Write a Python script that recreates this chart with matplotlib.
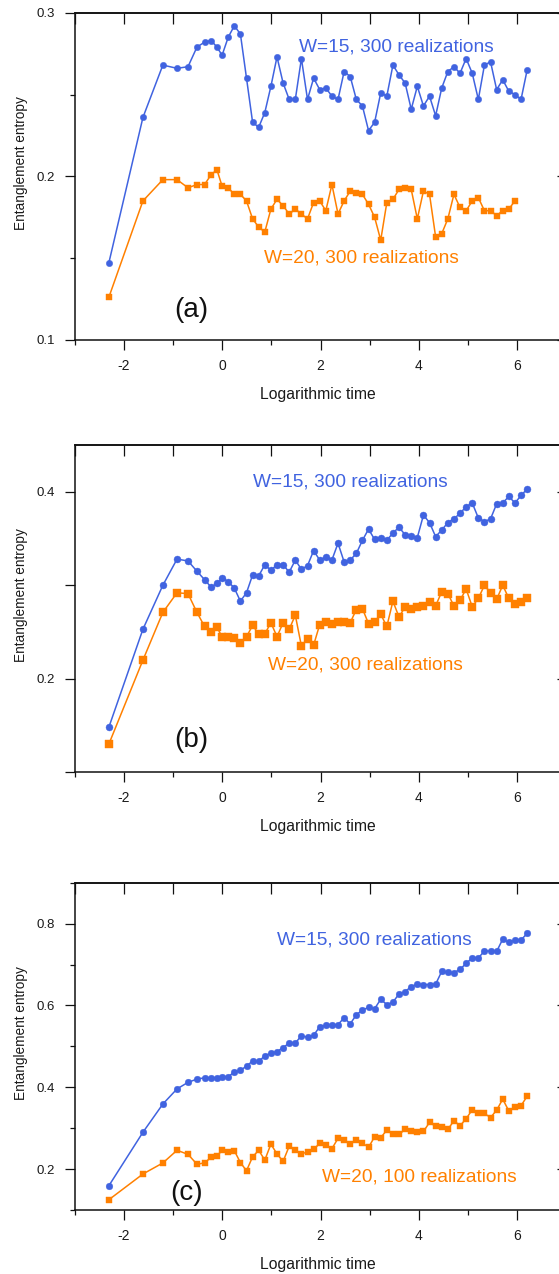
import matplotlib
matplotlib.use('Agg')
import matplotlib.pyplot as plt
from matplotlib.ticker import MultipleLocator, FixedLocator

plt.rcParams['font.family'] = ['Liberation Sans', 'DejaVu Sans']
plt.rcParams['axes.unicode_minus'] = False

# ---------------- data ----------------
log_time = [-2.303, -1.609, -1.204, -0.916, -0.693, -0.511, -0.357, -0.223, -0.105, 0.000,
            0.124, 0.248, 0.372, 0.496, 0.620, 0.744, 0.868, 0.992, 1.116, 1.240,
            1.364, 1.488, 1.612, 1.736, 1.860, 1.984, 2.108, 2.232, 2.356, 2.480,
            2.604, 2.728, 2.852, 2.976, 3.100, 3.224, 3.348, 3.472, 3.596, 3.720,
            3.844, 3.968, 4.092, 4.216, 4.340, 4.464, 4.588, 4.712, 4.836, 4.960,
            5.084, 5.208, 5.332, 5.456, 5.580, 5.704, 5.828, 5.952, 6.076, 6.200]

a_w15 = [0.147, 0.236, 0.268, 0.266, 0.267, 0.279, 0.282, 0.283, 0.279, 0.274,
         0.285, 0.292, 0.287, 0.260, 0.233, 0.230, 0.239, 0.255, 0.273, 0.257,
         0.247, 0.247, 0.272, 0.247, 0.260, 0.253, 0.254, 0.249, 0.247, 0.264,
         0.261, 0.247, 0.243, 0.228, 0.233, 0.251, 0.249, 0.268, 0.262, 0.257,
         0.241, 0.255, 0.243, 0.249, 0.237, 0.254, 0.264, 0.267, 0.263, 0.272,
         0.263, 0.247, 0.268, 0.270, 0.253, 0.259, 0.252, 0.250, 0.247, 0.265]
a_w20 = [0.126, 0.185, 0.198, 0.198, 0.193, 0.195, 0.195, 0.201, 0.204, 0.194,
         0.193, 0.189, 0.189, 0.185, 0.174, 0.169, 0.166, 0.180, 0.186, 0.182,
         0.177, 0.180, 0.177, 0.174, 0.184, 0.185, 0.179, 0.195, 0.177, 0.185,
         0.191, 0.190, 0.189, 0.183, 0.175, 0.161, 0.184, 0.186, 0.192, 0.193,
         0.192, 0.174, 0.191, 0.189, 0.163, 0.165, 0.174, 0.189, 0.181, 0.179,
         0.185, 0.187, 0.179, 0.179, 0.176, 0.179, 0.180, 0.185]

b_w15 = [0.148, 0.253, 0.300, 0.328, 0.326, 0.315, 0.306, 0.298, 0.302, 0.308,
         0.304, 0.297, 0.283, 0.292, 0.311, 0.310, 0.322, 0.316, 0.322, 0.322,
         0.314, 0.327, 0.317, 0.321, 0.337, 0.327, 0.330, 0.327, 0.345, 0.325,
         0.327, 0.334, 0.348, 0.360, 0.349, 0.351, 0.348, 0.356, 0.362, 0.354,
         0.353, 0.351, 0.375, 0.367, 0.352, 0.359, 0.367, 0.371, 0.377, 0.384,
         0.388, 0.372, 0.368, 0.371, 0.387, 0.388, 0.395, 0.388, 0.396, 0.403]
b_w20 = [0.130, 0.220, 0.271, 0.292, 0.291, 0.271, 0.256, 0.250, 0.255, 0.245,
         0.245, 0.244, 0.238, 0.245, 0.257, 0.248, 0.248, 0.260, 0.245, 0.260,
         0.253, 0.268, 0.235, 0.243, 0.236, 0.258, 0.261, 0.259, 0.261, 0.261,
         0.260, 0.274, 0.275, 0.259, 0.261, 0.269, 0.256, 0.283, 0.266, 0.277,
         0.275, 0.277, 0.278, 0.282, 0.278, 0.293, 0.291, 0.278, 0.284, 0.296,
         0.277, 0.286, 0.300, 0.292, 0.285, 0.300, 0.286, 0.280, 0.282, 0.286]

c_w15 = [0.159, 0.290, 0.359, 0.396, 0.412, 0.420, 0.423, 0.423, 0.422, 0.425,
         0.426, 0.437, 0.441, 0.452, 0.464, 0.463, 0.477, 0.483, 0.487, 0.497,
         0.508, 0.508, 0.526, 0.522, 0.527, 0.548, 0.551, 0.552, 0.553, 0.570,
         0.555, 0.577, 0.589, 0.595, 0.592, 0.615, 0.602, 0.608, 0.628, 0.634,
         0.646, 0.652, 0.651, 0.651, 0.652, 0.683, 0.681, 0.680, 0.688, 0.703,
         0.716, 0.716, 0.733, 0.733, 0.732, 0.762, 0.754, 0.760, 0.760, 0.776]
c_w20 = [0.125, 0.188, 0.215, 0.246, 0.236, 0.212, 0.215, 0.229, 0.232, 0.246,
         0.241, 0.245, 0.216, 0.196, 0.230, 0.246, 0.222, 0.261, 0.237, 0.219,
         0.256, 0.246, 0.238, 0.241, 0.248, 0.263, 0.258, 0.250, 0.275, 0.272,
         0.261, 0.272, 0.264, 0.253, 0.279, 0.277, 0.295, 0.285, 0.285, 0.297,
         0.293, 0.290, 0.292, 0.314, 0.305, 0.303, 0.297, 0.318, 0.306, 0.323,
         0.345, 0.336, 0.336, 0.326, 0.344, 0.371, 0.342, 0.352, 0.355, 0.378]

panel_tags = ['(a)', '(b)', '(c)']
w15_labels = ['W=15, 300 realizations', 'W=15, 300 realizations', 'W=15, 300 realizations']
w20_labels = ['W=20, 300 realizations', 'W=20, 300 realizations', 'W=20, 100 realizations']
x_label = 'Logarithmic time'
y_label = 'Entanglement entropy'

# ---------------- style ----------------
BLUE = '#4063E0'
ORANGE = '#FF8000'
TXT = '#1a1a1a'
W, H = 559, 1274

fig = plt.figure(figsize=(W / 100, H / 100), dpi=100)

panels = [
    dict(top=12.7, bottom=340.0, ylim=(0.1, 0.3), major=0.1, minor=0.05, minor_len=5,
         y15=a_w15, y20=a_w20, ms15=4.6, ms20=4.2,
         t15=(0.4563, 0.880), t20=(0.3852, 0.2353), tag=(0.2022, 0.0703)),
    dict(top=445.0, bottom=772.3, ylim=(0.1, 0.45), major=0.2, minor=0.1, minor_len=10,
         y15=b_w15, y20=b_w20, ms15=5.0, ms20=5.4,
         t15=(0.3622, 0.8747), t20=(0.3933, 0.3156), tag=(0.2022, 0.0788)),
    dict(top=882.7, bottom=1210.0, ylim=(0.1, 0.9), major=0.2, minor=0.1, minor_len=5,
         y15=c_w15, y20=c_w20, ms15=4.8, ms20=4.5,
         t15=(0.4110, 0.8127), t20=(0.5024, 0.0886), tag=(0.1940, 0.0306)),
]

left_px, right_px = 74.5, 566.5
for i, p in enumerate(panels):
    ax = fig.add_axes([left_px / W, 1 - p['bottom'] / H,
                       (right_px - left_px) / W, (p['bottom'] - p['top']) / H])
    y15 = p['y15']
    y20 = p['y20']
    ax.plot(log_time[:len(y15)], y15, '-o', color=BLUE, lw=1.1, ms=p['ms15'],
            mec=BLUE, mfc=BLUE, mew=0.3, clip_on=False, zorder=3)
    ax.plot(log_time[:len(y20)], y20, '-s', color=ORANGE, lw=1.1, ms=p['ms20'],
            mec=ORANGE, mfc=ORANGE, mew=0.3, clip_on=False, zorder=3)

    ax.set_xlim(-3, 7)
    ax.set_ylim(*p['ylim'])
    ax.xaxis.set_major_locator(MultipleLocator(2))
    ax.xaxis.set_minor_locator(MultipleLocator(1))
    ax.yaxis.set_major_locator(MultipleLocator(p['major']))
    ax.yaxis.set_minor_locator(MultipleLocator(p['minor']))
    ax.yaxis.set_major_formatter(matplotlib.ticker.FormatStrFormatter('%g'))
    ax.xaxis.set_major_formatter(matplotlib.ticker.FormatStrFormatter('%g'))

    for s in ax.spines.values():
        s.set_linewidth(1.1)
        s.set_color('#111111')
    ax.tick_params(axis='both', which='major', direction='out', length=7.5, width=0.9,
                   color='#111111', labelcolor=TXT)
    ax.tick_params(axis='x', which='major', labelsize=10, pad=6)
    ax.tick_params(axis='y', which='major', labelsize=9.5, pad=6.5)
    ax.tick_params(axis='both', which='minor', direction='out', length=3.7, width=0.9,
                   color='#111111')
    ax.tick_params(axis='y', which='minor', length=p['minor_len'] * 0.74)

    # top ticks (all integers, inward) and right ticks (inward)
    secx = ax.secondary_xaxis('top')
    secx.xaxis.set_major_locator(FixedLocator(list(range(-3, 8))))
    secx.tick_params(axis='x', direction='in', length=7.8, width=0.9, labeltop=False,
                     color='#111111')
    secx.spines['top'].set_linewidth(1.1)
    secy = ax.secondary_yaxis('right')
    secy.yaxis.set_major_locator(MultipleLocator(p['major']))
    secy.tick_params(axis='y', direction='in', length=7.5, width=0.9, labelright=False,
                     color='#111111')

    ax.set_xlabel(x_label, fontsize=11.3, color=TXT)
    ax.xaxis.set_label_coords(0.4955, -0.143)
    ax.set_ylabel(y_label, fontsize=9.8, color=TXT)
    ax.yaxis.set_label_coords(-0.0935, 0.54)

    ax.text(p['t15'][0], p['t15'][1], w15_labels[i], transform=ax.transAxes,
            color=BLUE, fontsize=13.8, ha='left', va='baseline')
    ax.text(p['t20'][0], p['t20'][1], w20_labels[i], transform=ax.transAxes,
            color=ORANGE, fontsize=13.8, ha='left', va='baseline')
    ax.text(p['tag'][0], p['tag'][1], panel_tags[i], transform=ax.transAxes,
            color='#111111', fontsize=20, ha='left', va='baseline')

fig.savefig('out.png', dpi=100)
